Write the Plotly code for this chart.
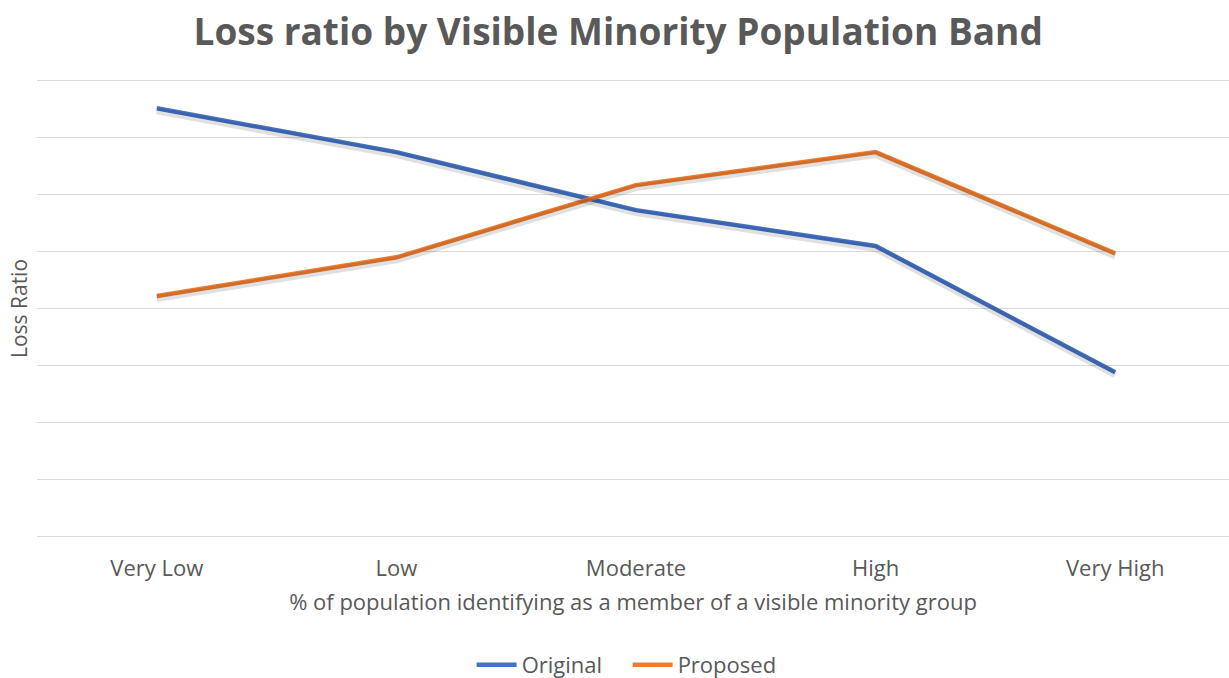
import plotly.graph_objects as go

categories = ["Very Low", "Low", "Moderate", "High", "Very High"]
original = [0.752, 0.675, 0.573, 0.510, 0.288]
proposed = [0.422, 0.490, 0.617, 0.675, 0.497]

FONT = "Open Sans"
TXT = "#595959"
BLUE = "#4472C4"
ORANGE = "#ED7D31"
GRID = "#D9D9D9"

fig = go.Figure()

# soft shadows (Excel style), drawn on a slightly shifted overlay axis
shift = 0.0045
for vals in (original, proposed):
    fig.add_trace(go.Scatter(x=categories, y=vals, mode="lines", xaxis="x2", yaxis="y2",
                             line=dict(color="rgba(0,0,0,0.12)", width=7), showlegend=False,
                             hoverinfo="skip"))

fig.add_trace(go.Scatter(x=categories, y=original, mode="lines", name="Original",
                         line=dict(color=BLUE, width=4.5)))
fig.add_trace(go.Scatter(x=categories, y=proposed, mode="lines", name="Proposed",
                         line=dict(color=ORANGE, width=4.5)))

xr = [-0.5, 4.475]
yr = [0, 0.8]
fig.update_layout(
    width=1229, height=678,
    margin=dict(l=37, r=0, t=81, b=142, autoexpand=False),
    paper_bgcolor="white", plot_bgcolor="white",
    font=dict(family=FONT, color=TXT),
    title=dict(text="<b>Loss ratio by Visible Minority Population Band</b>",
               x=0.503, xanchor="center", y=0.953, yanchor="middle",
               font=dict(size=37, color=TXT, family=FONT)),
    xaxis=dict(type="category", range=xr, showgrid=False, zeroline=False, automargin=False,
               showline=True, linecolor=GRID, linewidth=1, mirror=True,
               ticks="", tickfont=dict(size=22, color=TXT), ticklabelstandoff=13,
               title=dict(text="% of population identifying as a member of a visible minority group",
                          font=dict(size=22, color=TXT), standoff=13)),
    yaxis=dict(range=yr, dtick=0.1, showgrid=True, gridcolor=GRID, gridwidth=1, automargin=False,
               showticklabels=False, zeroline=False, showline=False, ticks="",
               title=dict(text="Loss Ratio", font=dict(size=21, color=TXT), standoff=2)),
    xaxis2=dict(type="category", range=xr, overlaying="x", visible=False),
    yaxis2=dict(range=[yr[0] + shift, yr[1] + shift], overlaying="y", visible=False),
    legend=dict(orientation="h", x=0.4955, xanchor="center", y=-0.2835, yanchor="middle",
                font=dict(size=22, color=TXT), itemwidth=40, tracegroupgap=0,
                entrywidth=101, entrywidthmode="pixels"),
    showlegend=True,
)

fig.write_html("out.html")
